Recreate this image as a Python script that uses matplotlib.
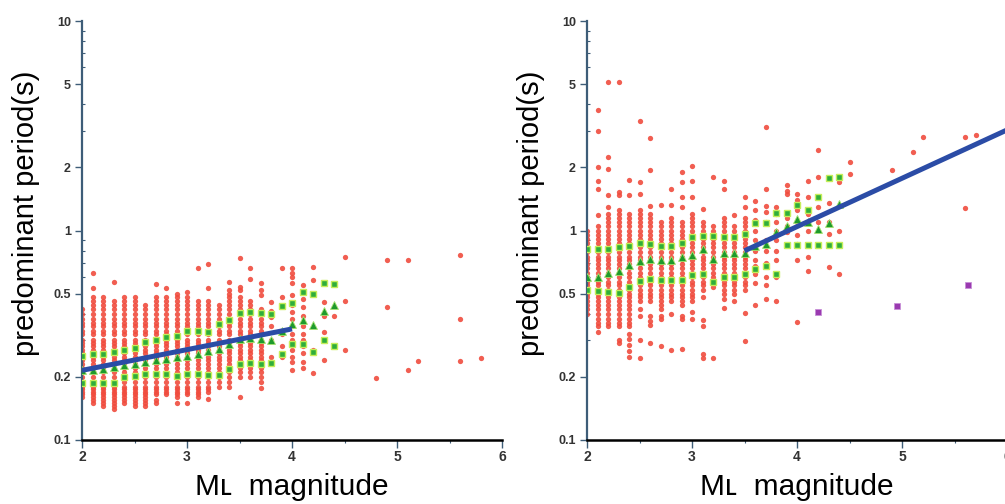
import matplotlib
matplotlib.use('Agg')
import matplotlib.pyplot as plt
from matplotlib.ticker import FixedLocator, NullFormatter

# period levels (s) that the dense columns are made of
levels = [0.14, 0.145, 0.15, 0.155, 0.16, 0.165, 0.17, 0.175, 0.18, 0.19, 0.20,
          0.21, 0.22, 0.23, 0.24, 0.25, 0.26, 0.27, 0.28, 0.29, 0.30, 0.32, 0.33,
          0.35, 0.36, 0.38, 0.40, 0.42, 0.44, 0.46, 0.48, 0.50, 0.52, 0.55, 0.57,
          0.60, 0.63, 0.66, 0.69, 0.72, 0.75, 0.79, 0.83, 0.87, 0.91, 0.95, 1.0,
          1.05, 1.1, 1.15, 1.2, 1.25]

# ---- left panel ----
left_col_m = [2.0, 2.1, 2.2, 2.3, 2.4, 2.5, 2.6, 2.7, 2.8, 2.9, 3.0, 3.1, 3.2, 3.3, 3.4, 3.5, 3.6, 3.7]
left_col_lo = [0.16, 0.15, 0.145, 0.14, 0.15, 0.145, 0.145, 0.165, 0.165, 0.16, 0.165, 0.16, 0.17, 0.18, 0.19, 0.20, 0.20, 0.19]
left_col_hi = [0.42, 0.48, 0.48, 0.46, 0.48, 0.48, 0.44, 0.48, 0.48, 0.50, 0.48, 0.46, 0.46, 0.44, 0.52, 0.48, 0.46, 0.42]
left_outliers = {
    2.1: [0.63, 0.53], 2.3: [0.57], 2.7: [0.556, 0.155, 0.15], 2.8: [0.53],
    2.9: [0.15], 3.0: [0.51, 0.15], 3.1: [0.66], 3.2: [0.69, 0.53, 0.157],
    3.4: [0.566, 0.179], 3.5: [0.74, 0.54, 0.52, 0.161], 3.6: [0.66, 0.59],
    3.7: [0.56, 0.52, 0.49, 0.177],
    3.8: [0.455, 0.415, 0.386, 0.35, 0.30, 0.25],
    3.9: [0.66, 0.48, 0.32, 0.28, 0.25],
    4.0: [0.66, 0.63, 0.60, 0.56, 0.49, 0.44, 0.41, 0.38, 0.35, 0.32, 0.30, 0.27, 0.25, 0.235, 0.215],
    4.1: [0.55, 0.47, 0.43, 0.39, 0.35, 0.32, 0.30, 0.28, 0.26, 0.235, 0.22],
    4.2: [0.67, 0.58, 0.27, 0.208], 4.3: [0.455, 0.39, 0.327, 0.30, 0.24],
    4.4: [0.39], 4.5: [0.75, 0.46, 0.27], 4.8: [0.197], 4.9: [0.72, 0.43],
    5.1: [0.72, 0.216], 5.2: [0.237], 5.6: [0.76, 0.376, 0.237], 5.8: [0.247],
}

stat_m = [2.0, 2.1, 2.2, 2.3, 2.4, 2.5, 2.6, 2.7, 2.8, 2.9, 3.0, 3.1, 3.2,
          3.3, 3.4, 3.5, 3.6, 3.7, 3.8, 3.9, 4.0, 4.1, 4.2, 4.3, 4.4]
left_upper = [0.251, 0.256, 0.258, 0.263, 0.270, 0.275, 0.293, 0.301, 0.310, 0.312, 0.333, 0.333, 0.327,
              0.356, 0.372, 0.405, 0.407, 0.403, 0.400, 0.434, 0.450, 0.508, 0.498, 0.563, 0.556]
left_mean = [0.215, 0.216, 0.219, 0.223, 0.227, 0.231, 0.235, 0.241, 0.244, 0.249, 0.253, 0.258, 0.266,
             0.272, 0.288, 0.304, 0.308, 0.304, 0.301, 0.333, 0.359, 0.372, 0.354, 0.415, 0.443]
left_lower = [0.187, 0.187, 0.187, 0.187, 0.200, 0.202, 0.207, 0.207, 0.207, 0.203, 0.207, 0.207, 0.205,
              0.205, 0.219, 0.231, 0.233, 0.231, 0.232, 0.258, 0.288, 0.286, 0.263, 0.301, 0.280]
left_fit_m = [2.0, 4.0]
left_fit_p = [0.215, 0.339]

# ---- right panel ----
right_col_m = [2.0, 2.1, 2.2, 2.3, 2.4, 2.5, 2.6, 2.7, 2.8, 2.9, 3.0, 3.1, 3.2, 3.3, 3.4, 3.5]
right_col_lo = [0.40, 0.35, 0.35, 0.345, 0.35, 0.45, 0.455, 0.42, 0.46, 0.43, 0.46, 0.52, 0.57, 0.50, 0.50, 0.52]
right_col_hi = [1.0, 1.05, 1.2, 1.25, 1.2, 1.25, 1.2, 1.1, 1.15, 1.1, 1.2, 1.1, 1.05, 1.15, 1.05, 1.15]
right_outliers = {
    2.1: [3.74, 2.97, 2.0, 1.73, 1.58, 1.18, 0.327],
    2.2: [5.14, 2.24, 1.97, 1.47, 1.30],
    2.3: [5.14, 1.53, 1.47, 0.30, 0.29],
    2.4: [1.74, 1.47, 0.32, 0.305, 0.285, 0.265, 0.249],
    2.5: [3.35, 1.71, 1.49, 0.42, 0.39, 0.30, 0.247],
    2.6: [2.77, 1.95, 1.31, 0.39, 0.37, 0.352, 0.29],
    2.7: [1.33, 0.39, 0.38, 0.28],
    2.8: [1.58, 1.33, 0.40, 0.27],
    2.9: [1.90, 1.71, 1.45, 1.30, 0.39, 0.38, 0.272],
    3.0: [2.03, 1.73, 1.45, 0.41, 0.38],
    3.1: [1.27, 0.48, 0.372, 0.35, 0.258, 0.247],
    3.2: [1.80, 0.54, 0.247],
    3.3: [1.73, 1.58, 0.47, 0.428],
    3.4: [1.18, 0.463],
    3.5: [1.45, 1.30, 0.403, 0.298],
    3.6: [1.38, 1.25, 1.12, 1.0, 0.9, 0.8, 0.72, 0.68, 0.62, 0.56, 0.44],
    3.7: [3.11, 1.58, 1.31, 1.22, 1.1, 0.9, 0.8, 0.7, 0.6, 0.55, 0.47],
    3.8: [1.30, 1.20, 1.10, 1.0, 0.9, 0.8, 0.72, 0.60, 0.463],
    3.9: [1.65, 1.55, 1.50, 1.15, 1.05, 0.98],
    4.0: [1.50, 1.40, 1.25, 1.10, 0.95, 0.86, 0.72, 0.365],
    4.1: [1.72, 1.45, 1.20, 1.0, 0.75, 0.64],
    4.2: [2.41, 1.80, 1.30, 1.10],
    4.3: [1.36, 1.10, 0.96, 0.67],
    4.4: [1.70, 1.0, 0.62],
    4.5: [2.12, 1.86], 4.9: [1.95], 5.1: [2.36], 5.2: [2.78],
    5.6: [2.78, 1.28], 5.7: [2.86],
}
right_upper = [0.818, 0.818, 0.818, 0.832, 0.848, 0.870, 0.865, 0.848, 0.848, 0.870, 0.936, 0.946, 0.946,
               0.929, 0.929, 0.964, 1.08, 1.08, 1.21, 1.21, 1.33, 1.25, 1.44, 1.78, 1.81]
right_mean = [0.60, 0.60, 0.625, 0.639, 0.681, 0.719, 0.732, 0.725, 0.725, 0.746, 0.760, 0.818, 0.732,
              0.779, 0.779, 0.78, 0.84, 0.86, 0.98, 1.05, 1.13, 1.10, 1.02, 1.09, 1.34]
right_lower = [0.521, 0.513, 0.508, 0.502, 0.540, 0.573, 0.588, 0.583, 0.581, 0.581, 0.614, 0.621, 0.567,
               0.603, 0.603, 0.621, 0.656, 0.674, 0.621, 0.855, 0.855, 0.855, 0.855, 0.855, 0.855]
right_fit_m = [3.5, 6.0]
right_fit_p = [0.80, 3.02]
purple_m = [4.2, 4.95, 5.63]
purple_p = [0.41, 0.435, 0.55]

ytick_vals = [0.1, 0.2, 0.5, 1, 2, 5, 10]
ytick_text = ['0.1', '0.2', '0.5', '1', '2', '5', '10']
yminor_vals = [0.3, 0.4, 0.6, 0.7, 0.8, 0.9, 3, 4, 6, 7, 8, 9]
xtick_vals = [2, 3, 4, 5, 6]

RED = '#f04c3e'
GREEN_FILL = '#2fae3a'
GREEN_EDGE = '#c6ee5a'
GREEN_TRI = '#1e9a2c'
BLUE = '#2b4ca6'
PURPLE = '#9a3ab0'
SPINE = '#3e5d78'

tick_font = ['Liberation Sans', 'DejaVu Sans']
label_font = ['Liberation Sans', 'DejaVu Sans']


def draw_panel(ax, col_m, col_lo, col_hi, outliers, upper, mean, lower, fit_m, fit_p):
    xs, ys = [], []
    for m, lo, hi in zip(col_m, col_lo, col_hi):
        for p in levels:
            if lo <= p <= hi:
                xs.append(m)
                ys.append(p)
    for m, ps in outliers.items():
        for p in ps:
            xs.append(m)
            ys.append(p)
    ax.plot(xs, ys, 'o', ms=3.8, color=RED, mec='none', alpha=0.9, zorder=2)

    ax.plot(stat_m, upper, 's', ms=4.8, mfc=GREEN_FILL, mec=GREEN_EDGE, mew=1.0, zorder=3)
    ax.plot(stat_m, lower, 's', ms=4.8, mfc=GREEN_FILL, mec=GREEN_EDGE, mew=1.0, zorder=3)
    ax.plot(stat_m, mean, '^', ms=5.4, color=GREEN_TRI, mec='#a6e270', mew=0.6, zorder=3)
    ax.plot(fit_m, fit_p, '-', color=BLUE, lw=3.6, solid_capstyle='butt', zorder=4)

    ax.set_yscale('log')
    ax.set_xlim(2, 6)
    ax.set_ylim(0.1, 10)
    ax.yaxis.set_major_locator(FixedLocator(ytick_vals))
    ax.set_yticklabels(ytick_text)
    ax.yaxis.set_minor_locator(FixedLocator(yminor_vals))
    ax.yaxis.set_minor_formatter(NullFormatter())
    ax.xaxis.set_major_locator(FixedLocator(xtick_vals))
    ax.xaxis.set_minor_locator(FixedLocator([2.5, 3.5, 4.5, 5.5]))
    ax.set_xticklabels([str(v) for v in xtick_vals])

    for s in ['top', 'right']:
        ax.spines[s].set_visible(False)
    ax.spines['left'].set_color(SPINE)
    ax.spines['left'].set_linewidth(1.6)
    ax.spines['bottom'].set_color('black')
    ax.spines['bottom'].set_linewidth(1.8)

    ax.tick_params(axis='y', which='major', direction='out', length=5, width=1,
                   color=SPINE, pad=3)
    ax.tick_params(axis='y', which='minor', direction='in', length=2.5, width=0.8,
                   color=SPINE)
    ax.tick_params(axis='x', which='major', direction='out', length=5.5, width=1,
                   color=SPINE, pad=2)
    ax.tick_params(axis='x', which='minor', direction='out', length=2.5, width=0.8,
                   color=SPINE)
    for t in ax.get_yticklabels():
        t.set_family(tick_font)
        t.set_fontsize(9)
        t.set_fontweight('bold')
        t.set_color('#333333')
    for t in ax.get_xticklabels():
        t.set_family(tick_font)
        t.set_fontsize(10)
        t.set_fontweight('bold')
        t.set_color('#333333')

    ax.set_ylabel('predominant period(s)', family=label_font, fontsize=21)
    ax.yaxis.set_label_coords(-0.1, 0.542)
    ax.set_xlabel('M\u029f  magnitude', family=label_font, fontsize=21.5, labelpad=6)


fig = plt.figure(figsize=(10.05, 5.04), dpi=100)
ax1 = fig.add_axes([82 / 1005, 64 / 504, 420 / 1005, 419 / 504])
ax2 = fig.add_axes([587 / 1005, 64 / 504, 420 / 1005, 419 / 504])

draw_panel(ax1, left_col_m, left_col_lo, left_col_hi, left_outliers,
           left_upper, left_mean, left_lower, left_fit_m, left_fit_p)
draw_panel(ax2, right_col_m, right_col_lo, right_col_hi, right_outliers,
           right_upper, right_mean, right_lower, right_fit_m, right_fit_p)
ax2.plot(purple_m, purple_p, 's', ms=4.4, color=PURPLE, mec='#c890d8', mew=0.6, zorder=5)

fig.savefig('out.png', dpi=100)
